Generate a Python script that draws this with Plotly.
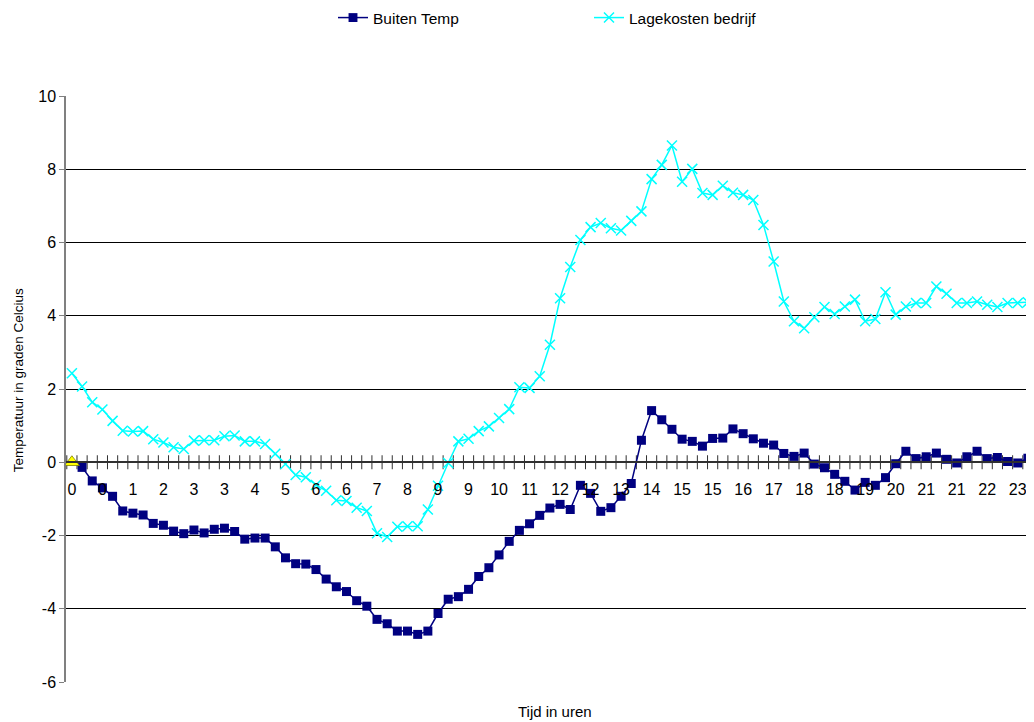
import plotly.graph_objects as go

# 15-minute samples over 24 hours (0:00 ... 23:45)
buiten_temp = [
    0.00, -0.14, -0.51, -0.70, -0.93, -1.33, -1.39, -1.44, -1.67, -1.72, -1.88, -1.95,
    -1.85, -1.93, -1.83, -1.80, -1.89, -2.10, -2.07, -2.07, -2.31, -2.61, -2.77, -2.78,
    -2.93, -3.19, -3.40, -3.53, -3.78, -3.93, -4.29, -4.41, -4.61, -4.61, -4.70, -4.61,
    -4.13, -3.74, -3.67, -3.47, -3.12, -2.88, -2.53, -2.16, -1.86, -1.68, -1.45, -1.25,
    -1.15, -1.29, -0.63, -0.85, -1.34, -1.24, -0.93, -0.58, 0.60, 1.41, 1.16, 0.90,
    0.63, 0.57, 0.44, 0.65, 0.66, 0.91, 0.78, 0.64, 0.52, 0.47, 0.24, 0.16,
    0.25, -0.05, -0.15, -0.33, -0.52, -0.76, -0.55, -0.63, -0.42, -0.04, 0.30, 0.10,
    0.15, 0.25, 0.08, -0.02, 0.15, 0.30, 0.10, 0.13, 0.02, -0.02, 0.11, 0.10,
]
lagekosten = [
    2.43, 2.07, 1.64, 1.44, 1.13, 0.86, 0.84, 0.85, 0.63, 0.54, 0.41, 0.36,
    0.59, 0.60, 0.60, 0.71, 0.73, 0.57, 0.57, 0.50, 0.23, -0.05, -0.35, -0.41,
    -0.62, -0.78, -1.04, -1.06, -1.24, -1.33, -1.94, -2.04, -1.76, -1.75, -1.75, -1.29,
    -0.64, -0.02, 0.57, 0.64, 0.85, 0.98, 1.21, 1.45, 2.05, 2.03, 2.35, 3.21,
    4.48, 5.33, 6.07, 6.42, 6.53, 6.39, 6.33, 6.59, 6.85, 7.73, 8.12, 8.65,
    7.66, 8.01, 7.35, 7.30, 7.55, 7.36, 7.30, 7.16, 6.48, 5.48, 4.39, 3.85,
    3.66, 3.96, 4.24, 4.05, 4.25, 4.44, 3.85, 3.91, 4.64, 4.03, 4.25, 4.35,
    4.35, 4.80, 4.60, 4.35, 4.35, 4.39, 4.30, 4.24, 4.35, 4.35, 4.37, 4.42,
]
start_marker = [0.0]
tick_labels = ["0", "0", "1", "2", "3", "3", "4", "5", "6", "6", "7", "8", "9", "9",
               "10", "11", "12", "12", "13", "14", "15", "15", "16", "17", "18", "18",
               "19", "20", "21", "21", "22", "23"]
y_tick_vals = [-6, -4, -2, 0, 2, 4, 6, 8, 10]
y_tick_labels = ["-6", "-4", "-2", "0", "2", "4", "6", "8", "10"]

n = len(buiten_temp)
idx = list(range(n))
label_pos = list(range(0, n, 3))
boundaries = [i - 0.5 for i in range(n + 1)]
# first Buiten Temp point is shown with the yellow triangle instead of a square
buiten_sizes = [0] + [9] * (n - 1)

FONT = "Liberation Sans, Arial, sans-serif"

fig = go.Figure()

# cross tick marks on the category axis at y=0
fig.add_trace(go.Scatter(
    x=boundaries, y=[0] * len(boundaries), mode="markers",
    marker=dict(symbol="line-ns", size=10, line=dict(width=1, color="#303030")),
    showlegend=False, hoverinfo="skip", cliponaxis=True,
))

fig.add_trace(go.Scatter(
    x=idx, y=buiten_temp, mode="lines+markers", name="Buiten Temp",
    line=dict(color="#000080", width=1.5),
    marker=dict(symbol="square", size=buiten_sizes, color="#000080", opacity=1,
                line=dict(width=0)),
))
fig.add_trace(go.Scatter(
    x=idx, y=lagekosten, mode="lines+markers", name="Lagekosten bedrijf",
    line=dict(color="#00FFFF", width=1.5),
    marker=dict(symbol="x-thin", size=10, color="#00FFFF",
                line=dict(width=1.5, color="#00FFFF")),
))
fig.add_trace(go.Scatter(
    x=[0], y=start_marker, mode="markers", showlegend=False, cliponaxis=False,
    marker=dict(symbol="triangle-up", size=13, color="#FFFF00", opacity=1,
                line=dict(width=0.8, color="#808000")),
))

W, H = 1026, 714  # page body has an 8px margin; window is 1034x722

fig.update_layout(
    width=W, height=H,
    margin=dict(l=58, r=0, t=88, b=40),
    paper_bgcolor="white", plot_bgcolor="white",
    font=dict(family=FONT, size=15, color="black"),
    showlegend=True,
    legend=dict(
        orientation="h", xref="container", yref="container",
        x=325 / W, y=1 - 10 / H, xanchor="left", yanchor="middle",
        font=dict(family=FONT, size=15.5, color="black"),
        entrywidth=211, entrywidthmode="pixels",
        bgcolor="rgba(0,0,0,0)",
    ),
    xaxis=dict(
        range=[-0.58, 94.6], anchor="free", position=0.375,
        showgrid=False, zeroline=False,
        showline=True, linecolor="#303030", linewidth=1.5,
        tickmode="array", tickvals=label_pos, ticktext=tick_labels,
        ticks="outside", ticklen=13, tickcolor="rgba(0,0,0,0)",
        tickfont=dict(family=FONT, size=16),
    ),
    yaxis=dict(
        range=[-6, 10], tickmode="array", tickvals=y_tick_vals, ticktext=y_tick_labels,
        showgrid=True, gridcolor="black", gridwidth=1,
        zeroline=False, showline=True, linecolor="#808080", linewidth=1.5,
        ticks="outside", ticklen=5, tickcolor="#808080",
        tickfont=dict(family=FONT, size=16),
    ),
    annotations=[
        dict(text="Tijd in uren", xref="paper", yref="paper", x=0.505, y=-0.051,
             xanchor="center", yanchor="middle", showarrow=False,
             font=dict(family=FONT, size=15)),
        dict(text="Temperatuur in graden Celcius", xref="paper", yref="paper",
             x=-0.0496, y=0.515, xanchor="center", yanchor="middle", textangle=-90,
             showarrow=False, font=dict(family=FONT, size=13.5)),
    ],
)

fig.write_html("out.html")
